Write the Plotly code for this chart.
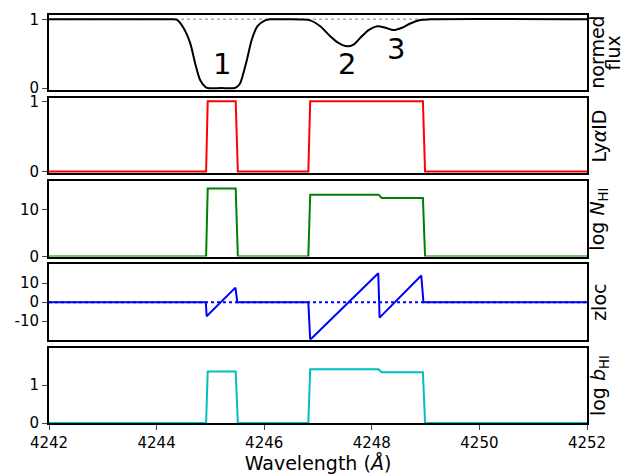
import plotly.graph_objects as go

# ---------------- data ----------------
wl_flux = [4242.0, 4244.2, 4244.375, 4244.498, 4244.623, 4244.716, 4244.809, 4244.902,
           4244.95, 4245.2, 4245.45, 4245.497, 4245.553, 4245.678, 4245.770, 4245.875,
           4246.018, 4246.11, 4246.483, 4246.7, 4246.855, 4247.041, 4247.227, 4247.381,
           4247.538, 4247.66, 4247.785, 4247.94, 4248.107, 4248.25, 4248.404, 4248.56,
           4248.715, 4248.90, 4249.087, 4252.0]
flux = [1.0, 1.0, 0.995, 0.878, 0.657, 0.363, 0.118, 0.02,
        0.0, 0.0, 0.0, 0.02, 0.07, 0.41, 0.706, 0.90,
        0.985, 1.0, 1.0, 0.997, 0.985, 0.90, 0.755, 0.657,
        0.607, 0.632, 0.73, 0.843, 0.90, 0.878, 0.843, 0.878,
        0.94, 0.99, 1.0, 1.0]

wl_id = [4242.0, 4244.92, 4244.95, 4245.47, 4245.51, 4246.82, 4246.855, 4248.95, 4248.99, 4252.0]
lya_id = [0, 0, 1, 1, 0, 0, 1, 1, 0, 0]

wl_par = [4242.0, 4244.92, 4244.95, 4245.47, 4245.51, 4246.82, 4246.855, 4248.125, 4248.185,
          4248.95, 4248.99, 4252.0]
log_n = [0, 0, 14.5, 14.5, 0, 0, 13.2, 13.2, 12.5, 12.5, 0, 0]
log_b = [0, 0, 1.355, 1.355, 0, 0, 1.418, 1.418, 1.336, 1.336, 0, 0]

wl_z = [4242.0, 4244.915, 4244.93, 4245.465, 4245.50, 4246.82, 4246.855, 4248.12, 4248.145,
        4248.92, 4248.96, 4252.0]
zloc = [0, 0, -7.4, 7.6, 0, 0, -19.7, 15.1, -8.1, 13.9, 0, 0]

line_labels = ["1", "2", "3"]
line_label_wl = [4245.22, 4247.54, 4248.45]
line_label_y = [0.353, 0.353, 0.574]

x_ticks = [4242, 4244, 4246, 4248, 4250, 4252]
panel_titles = ["normed<br>flux", "Ly<i>α</i>ID", "log <i>N</i><sub>HI</sub>", "zloc",
                "log <i>b</i><sub>HI</sub>"]

# ---------------- figure ----------------
FONT = "DejaVu Sans"
fig = go.Figure()

fig.add_trace(go.Scatter(x=[4242, 4252], y=[1, 1], mode="lines",
                         line=dict(color="#aaaaaa", width=1.5, dash="dot"),
                         xaxis="x", yaxis="y", showlegend=False))
fig.add_trace(go.Scatter(x=wl_flux, y=flux, mode="lines",
                         line=dict(color="black", width=2, shape="spline", smoothing=0.8),
                         xaxis="x", yaxis="y", showlegend=False))
fig.add_trace(go.Scatter(x=wl_id, y=lya_id, mode="lines", line=dict(color="#ff0000", width=2),
                         xaxis="x2", yaxis="y2", showlegend=False))
fig.add_trace(go.Scatter(x=wl_par, y=log_n, mode="lines", line=dict(color="#008000", width=2),
                         xaxis="x3", yaxis="y3", showlegend=False))
fig.add_trace(go.Scatter(x=[4242, 4252], y=[0, 0], mode="lines",
                         line=dict(color="#0000ff", width=2, dash="dot"),
                         xaxis="x4", yaxis="y4", showlegend=False))
fig.add_trace(go.Scatter(x=wl_z, y=zloc, mode="lines", line=dict(color="#0000ff", width=2),
                         xaxis="x4", yaxis="y4", showlegend=False))
fig.add_trace(go.Scatter(x=wl_par, y=log_b, mode="lines", line=dict(color="#00bfbf", width=2),
                         xaxis="x5", yaxis="y5", showlegend=False))

domains = [[0.815, 1.0], [0.612, 0.797], [0.408, 0.593], [0.204, 0.389], [0.0, 0.185]]
yranges = [[-0.035, 1.063], [-0.025, 1.05], [0, 16.1], [-19.7, 19.8], [0, 1.99]]
ytickvals = [[0, 1], [0, 1], [0, 10], [-10, 0, 10], [0, 1]]
yticktext = [["0", "1"], ["0", "1"], ["0", "10"], ["-10", "0", "10"], ["0", "1"]]

axis_common = dict(showline=True, linewidth=2, linecolor="black", mirror=True,
                   showgrid=False, zeroline=False, automargin=False,
                   tickfont=dict(family=FONT, size=15, color="black"))

# the page has an 8 px body margin: figure is 8 px smaller, left/top margins shifted
layout = dict(width=621, height=467, plot_bgcolor="white", paper_bgcolor="white",
              margin=dict(l=41, r=42, t=7, b=52, autoexpand=False), showlegend=False,
              font=dict(family=FONT, color="black"))

for i in range(5):
    n = "" if i == 0 else str(i + 1)
    last = (i == 4)
    xa = dict(axis_common, range=[4242, 4252], domain=[0, 1], anchor="y" + n,
              showticklabels=last,
              ticks="outside" if last else "", ticklen=5, tickwidth=1,
              tickvals=x_ticks if last else None)
    if i > 0:
        xa["matches"] = "x"
    if last:
        xa["title"] = dict(text="Wavelength (<i>Å</i>)",
                           font=dict(family=FONT, size=19, color="black"), standoff=3)
    ya = dict(axis_common, range=yranges[i], domain=domains[i], anchor="x" + n,
              ticks="outside", ticklen=5, tickwidth=1,
              tickvals=ytickvals[i], ticktext=yticktext[i])
    layout["xaxis" + n] = xa
    layout["yaxis" + n] = ya

fig.update_layout(**layout)

for t, xv, yv in zip(line_labels, line_label_wl, line_label_y):
    fig.add_annotation(x=xv, y=yv, xref="x", yref="y", text=t, showarrow=False,
                       font=dict(family=FONT, size=29, color="black"),
                       xanchor="center", yanchor="middle")

for i, t in enumerate(panel_titles):
    n = "" if i == 0 else str(i + 1)
    if i == 0:
        parts = t.split("<br>")
        for part, xp in zip(parts, [1.0186, 1.048]):
            fig.add_annotation(x=xp, y=0.5, xref="paper", yref="y domain", text=part,
                               textangle=-90, showarrow=False,
                               font=dict(family=FONT, size=19, color="black"),
                               xanchor="center", yanchor="middle")
    else:
        fig.add_annotation(x=1.022, y=0.5, xref="paper", yref="y" + n + " domain", text=t,
                           textangle=-90, showarrow=False,
                           font=dict(family=FONT, size=19, color="black"),
                           xanchor="center", yanchor="middle")

fig.write_html("out.html")
